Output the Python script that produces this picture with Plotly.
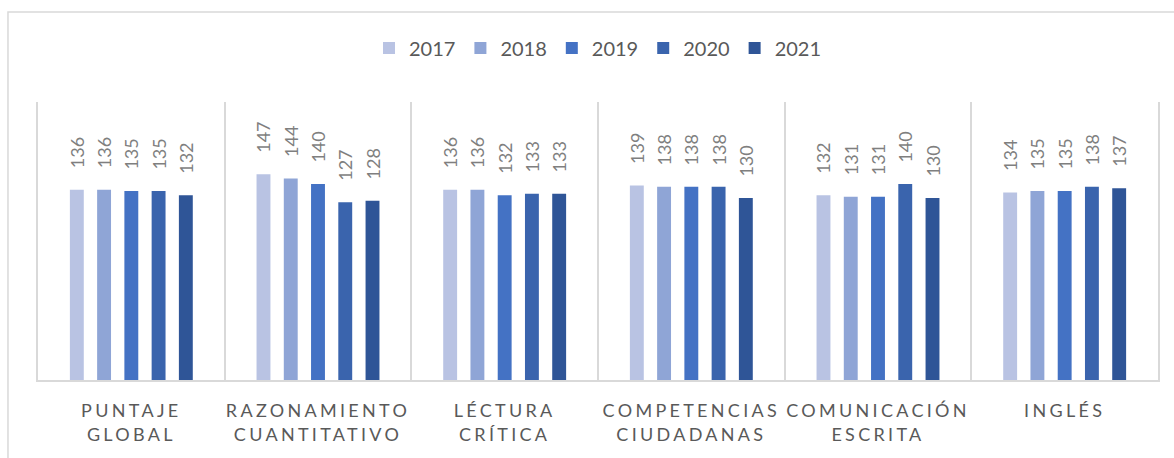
import plotly.graph_objects as go

categories = ["PUNTAJE<br>GLOBAL", "RAZONAMIENTO<br>CUANTITATIVO", "LÉCTURA<br>CRÍTICA",
              "COMPETENCIAS<br>CIUDADANAS", "COMUNICACIÓN<br>ESCRITA", "INGLÉS"]
years = ["2017", "2018", "2019", "2020", "2021"]
v2017 = [136, 147, 136, 139, 132, 134]
v2018 = [136, 144, 136, 138, 131, 135]
v2019 = [135, 140, 132, 138, 131, 135]
v2020 = [135, 127, 133, 138, 140, 138]
v2021 = [132, 128, 133, 130, 130, 137]
series = [v2017, v2018, v2019, v2020, v2021]
colors = ["#B9C3E3", "#8FA5D6", "#4472C4", "#3A64AD", "#2F5597"]

FONT = "Lato, 'Open Sans', sans-serif"
PAD = "\u00a0" * 4  # visual gap between bar top and its rotated label

fig = go.Figure()
for name, vals, col in zip(years, series, colors):
    fig.add_trace(go.Bar(
        x=categories, y=vals, name=name, marker_color=col, marker_line_width=0,
        texttemplate=PAD + "%{y}", textposition="outside", textangle=-90,
        constraintext="none",
        textfont=dict(family=FONT, size=18, color="#7f7f7f"), cliponaxis=False,
    ))

fig.update_layout(
    width=1174, height=458,
    margin=dict(l=38, r=16, t=102, b=78),
    paper_bgcolor="white", plot_bgcolor="white",
    barmode="group", bargap=0.27, bargroupgap=0.49,
    font=dict(family=FONT, color="#595959"),
    legend=dict(orientation="h", x=0.5, xanchor="center", y=1.194, yanchor="middle",
                font=dict(size=20, color="#595959"), itemclick=False, traceorder="normal"),
    showlegend=True,
)
fig.update_xaxes(
    tickson="boundaries", showgrid=True, gridcolor="#d9d9d9", gridwidth=1.5,
    showline=True, linecolor="#d9d9d9", linewidth=1.5,
    ticks="", ticklabelstandoff=14,
    tickfont=dict(family=FONT, size=18, color="#595959"),
)
fig.update_yaxes(
    range=[0, 198.6], showgrid=False, showticklabels=False, zeroline=False,
    showline=True, mirror=True, linecolor="#d9d9d9", linewidth=1.5,
)
# outer chart border (only top/left visible in the reference)
fig.add_shape(type="rect", xref="paper", yref="paper", x0=-0.0268, y0=-0.6, x1=1.1, y1=1.3237,
              line=dict(color="#d9d9d9", width=1.5), fillcolor="rgba(0,0,0,0)", layer="below")

post = """
document.body.style.margin='0';
document.querySelectorAll('.xtick text').forEach(function(t){t.style.letterSpacing='3.3px';});
"""
fig.write_html("out.html", post_script=post, config={"displayModeBar": False})
